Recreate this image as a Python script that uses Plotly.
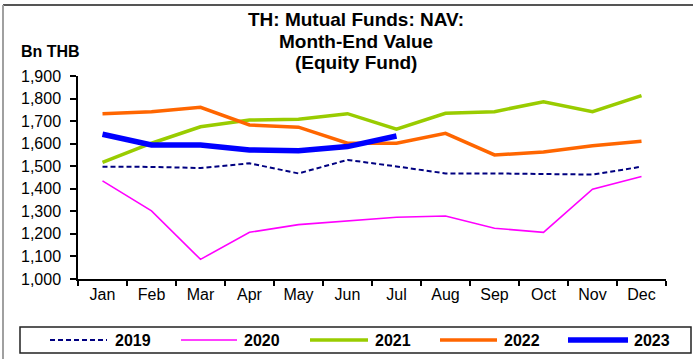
import plotly.graph_objects as go

# Month-end NAV of Thai equity mutual funds, billion THB
months = ["Jan", "Feb", "Mar", "Apr", "May", "Jun",
          "Jul", "Aug", "Sep", "Oct", "Nov", "Dec"]

nav_2019 = [1498, 1497, 1492, 1513, 1468, 1528, 1499, 1468, 1468, 1467, 1463, 1498]
nav_2020 = [1435, 1302, 1087, 1207, 1241, 1259, 1274, 1279, 1225, 1207, 1398, 1454]
nav_2021 = [1517, 1602, 1675, 1705, 1708, 1733, 1664, 1735, 1742, 1786, 1742, 1813]
nav_2022 = [1733, 1741, 1761, 1683, 1673, 1602, 1602, 1646, 1550, 1563, 1591, 1611]
nav_2023 = [1642, 1594, 1594, 1572, 1569, 1587, 1634]

title_lines = ["TH: Mutual Funds: NAV:", "Month-End Value", "(Equity Fund)"]

series = [
    ("2019", nav_2019, "#000080", 2.0, "5px,3px"),
    ("2020", nav_2020, "#FF00FF", 1.6, "solid"),
    ("2021", nav_2021, "#99CC00", 3.5, "solid"),
    ("2022", nav_2022, "#FF6600", 3.5, "solid"),
    ("2023", nav_2023, "#0000FF", 5.5, "solid"),
]

W, H = 693, 359
ML, MR, MT, MB = 78, 27, 76, 80
PW, PH = W - ML - MR, H - MT - MB
FONT = "Liberation Sans, Arial, sans-serif"


def px(x):
    return (x - ML) / PW


def py(y):
    return (H - MB - y) / PH


fig = go.Figure()
for name, vals, color, width, dash in series:
    fig.add_trace(go.Scatter(
        x=months[:len(vals)], y=vals, name=name, mode="lines",
        line=dict(color=color, width=width, dash=dash),
        hoverinfo="skip", showlegend=False,
    ))

shapes = []
annotations = []

# outer frame (top and left edges)
shapes.append(dict(type="line", xref="paper", yref="paper",
                   x0=px(3), x1=px(W + 2), y0=py(5), y1=py(5),
                   line=dict(color="#555555", width=2)))
shapes.append(dict(type="line", xref="paper", yref="paper",
                   x0=px(3), x1=px(3), y0=py(5), y1=py(H + 2),
                   line=dict(color="#a0a0a0", width=2)))

# legend box
shapes.append(dict(type="rect", xref="paper", yref="paper",
                   x0=px(20), x1=px(691), y0=py(327), y1=py(353),
                   line=dict(color="#222222", width=1.5), fillcolor="white"))

legend_pos = [(50, 107, 113), (181, 237, 242), (310, 368, 373),
              (440, 497, 502), (568, 628, 632)]
ly = 340
for (name, vals, color, width, dash), (x0, x1, tx) in zip(series, legend_pos):
    shapes.append(dict(type="line", xref="paper", yref="paper",
                       x0=px(x0), x1=px(x1), y0=py(ly), y1=py(ly),
                       line=dict(color=color, width=width, dash=dash)))
    annotations.append(dict(text=f"<b>{name}</b>", xref="paper", yref="paper",
                            x=px(tx), y=py(ly), xanchor="left", yanchor="middle",
                            showarrow=False,
                            font=dict(family=FONT, size=16, color="black")))

# title, one annotation per line
for line, yc in zip(title_lines, [20, 41.5, 63]):
    annotations.append(dict(
        text=f"<b>{line}</b>", xref="paper", yref="paper",
        x=px(356), y=py(yc), xanchor="center", yanchor="middle",
        showarrow=False,
        font=dict(family=FONT, size=19, color="black")))

# unit label
annotations.append(dict(
    text="<b>Bn THB</b>", xref="paper", yref="paper", x=px(19), y=py(52),
    xanchor="left", yanchor="middle", showarrow=False,
    font=dict(family=FONT, size=16, color="black")))

fig.update_layout(
    width=W, height=H,
    margin=dict(l=ML, r=MR, t=MT, b=MB, pad=0),
    paper_bgcolor="white", plot_bgcolor="white",
    font=dict(family=FONT, size=16, color="black"),
    shapes=shapes, annotations=annotations,
    showlegend=False,
    xaxis=dict(type="category", categoryorder="array", categoryarray=months,
               range=[-0.5, 11.5], showgrid=False, zeroline=False,
               showline=True, linecolor="black", linewidth=1.5,
               ticks="outside", tickson="boundaries", ticklen=5,
               tickcolor="black", tickwidth=1.5,
               tickfont=dict(family=FONT, size=16, color="black")),
    yaxis=dict(range=[1000, 1900], dtick=100, tickformat=",",
               showgrid=False, zeroline=False,
               showline=True, linecolor="black", linewidth=1.5,
               ticks="outside", ticklen=6, tickcolor="black", tickwidth=1.5,
               ticklabelstandoff=6,
               tickfont=dict(family=FONT, size=16, color="black")),
)

fig.write_html("out.html", config={"displayModeBar": False})
